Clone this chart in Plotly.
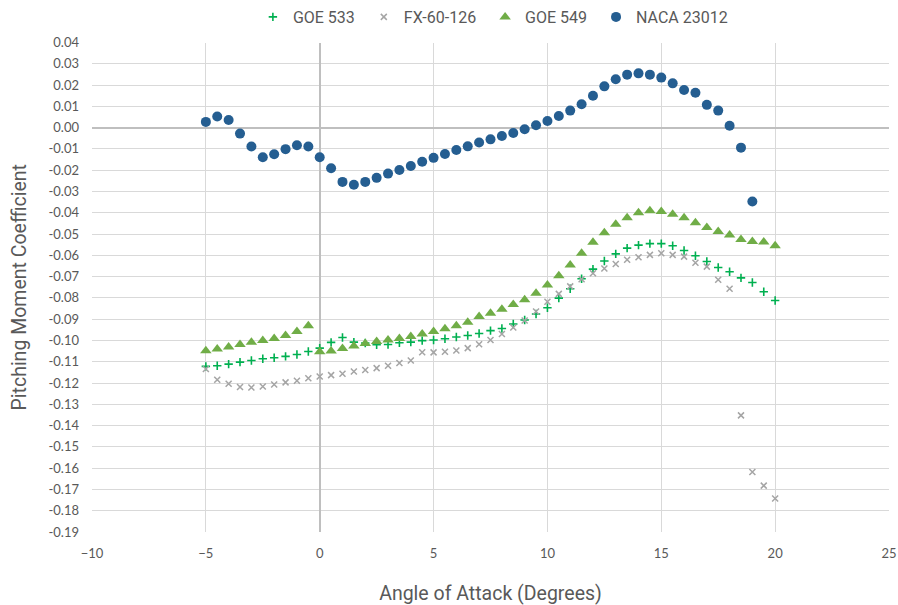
import plotly.graph_objects as go

aoa_full = [-5 + 0.5 * i for i in range(51)]  # -5 .. 20
aoa_naca = [-5 + 0.5 * i for i in range(49)]  # -5 .. 19

goe533 = [-0.1122, -0.1119, -0.1111, -0.1102, -0.1094, -0.1086, -0.1081, -0.1075, -0.1066, -0.1052,
          -0.1036, -0.1009, -0.0986, -0.1008, -0.1012, -0.1020, -0.1019, -0.1011, -0.1008, -0.1001,
          -0.0998, -0.0992, -0.0984, -0.0977, -0.0967, -0.0954, -0.0944, -0.0923, -0.0904, -0.0876,
          -0.0846, -0.0801, -0.0757, -0.0710, -0.0665, -0.0627, -0.0593, -0.0566, -0.0552, -0.0545,
          -0.0545, -0.0555, -0.0577, -0.0602, -0.0629, -0.0657, -0.0677, -0.0706, -0.0728, -0.0771,
          -0.0812]

fx60126 = [-0.1134, -0.1185, -0.1203, -0.1219, -0.1221, -0.1216, -0.1207, -0.1197, -0.1189, -0.1178,
           -0.1169, -0.1163, -0.1156, -0.1146, -0.1139, -0.1130, -0.1119, -0.1106, -0.1094, -0.1055,
           -0.1056, -0.1053, -0.1047, -0.1036, -0.1018, -0.0998, -0.0970, -0.0939, -0.0906, -0.0864,
           -0.0818, -0.0781, -0.0746, -0.0712, -0.0684, -0.0662, -0.0641, -0.0621, -0.0609, -0.0598,
           -0.0590, -0.0598, -0.0606, -0.0635, -0.0653, -0.0715, -0.0757, -0.1352, -0.1618, -0.1682,
           -0.1743]

goe549 = [-0.1048, -0.1040, -0.1031, -0.1019, -0.1009, -0.1000, -0.0991, -0.0977, -0.0958, -0.0931,
          -0.1053, -0.1050, -0.1038, -0.1026, -0.1014, -0.1005, -0.0998, -0.0991, -0.0981, -0.0970,
          -0.0958, -0.0945, -0.0931, -0.0915, -0.0887, -0.0872, -0.0853, -0.0831, -0.0809, -0.0778,
          -0.0740, -0.0696, -0.0645, -0.0590, -0.0538, -0.0494, -0.0454, -0.0424, -0.0400, -0.0391,
          -0.0394, -0.0407, -0.0424, -0.0447, -0.0469, -0.0488, -0.0505, -0.0526, -0.0535, -0.0537,
          -0.0555]

naca23012 = [0.0027, 0.0052, 0.0036, -0.0028, -0.0089, -0.0139, -0.0125, -0.0101, -0.0083, -0.0089,
             -0.0139, -0.0191, -0.0255, -0.0268, -0.0255, -0.0236, -0.0216, -0.0199, -0.0180, -0.0160,
             -0.0142, -0.0124, -0.0105, -0.0088, -0.0070, -0.0055, -0.0039, -0.0025, -0.0008, 0.0011,
             0.0031, 0.0055, 0.0080, 0.0110, 0.0150, 0.0194, 0.0227, 0.0249, 0.0255, 0.0249,
             0.0235, 0.0208, 0.0177, 0.0164, 0.0107, 0.0080, 0.0009, -0.0094, -0.0347]

y_ticks = [round(0.04 - 0.01 * i, 2) for i in range(24)]
y_labels = ["%.2f" % v for v in y_ticks]

NARROW = "Roboto, sans-serif"
TICKF = "Lato, Carlito, Calibri, sans-serif"
GRAY = "#595959"
PAD = "\u00a0"

fig = go.Figure()
fig.add_trace(go.Scatter(x=aoa_full, y=goe533, mode="markers", name="GOE 533" + PAD,
                         marker=dict(symbol="cross-thin", size=6, line=dict(color="#00B050", width=1.6),
                                     color="#00B050")))
fig.add_trace(go.Scatter(x=aoa_full, y=fx60126, mode="markers", name="FX-60-126" + PAD,
                         marker=dict(symbol="x-thin", size=6, line=dict(color="#A5A5A5", width=1.5),
                                     color="#A5A5A5")))
fig.add_trace(go.Scatter(x=aoa_full, y=goe549, mode="markers", name="GOE 549" + PAD,
                         marker=dict(symbol="triangle-up", size=10, color="#70AD47")))
fig.add_trace(go.Scatter(x=aoa_naca, y=naca23012, mode="markers", name="NACA 23012",
                         marker=dict(symbol="circle", size=10, color="#255E91")))

fig.update_layout(
    width=898, height=605,
    margin=dict(l=92, r=9, t=0, b=73, autoexpand=False),
    paper_bgcolor="white", plot_bgcolor="white",
    font=dict(family=NARROW, color=GRAY, size=12),
    legend=dict(orientation="h", x=0.503, xanchor="center",
                y=(532 - 17) / 532, yanchor="middle",
                font=dict(size=16, family=NARROW, color=GRAY), itemsizing="trace",
                itemwidth=30, tracegroupgap=0),
    xaxis=dict(range=[-10, 25], tickvals=list(range(-10, 26, 5)), showgrid=True,
               gridcolor="#D9D9D9", gridwidth=1, zeroline=True, zerolinecolor="#BFBFBF",
               zerolinewidth=1.5, showline=False, ticks="", ticklabelstandoff=12,
               tickfont=dict(size=13, family=TICKF, color=GRAY),
               title=dict(text="Angle of Attack (Degrees)", font=dict(size=19.5, family=NARROW, color=GRAY),
                          standoff=26)),
    yaxis=dict(range=[-0.19, 0.04], domain=[0, 489.5 / 532], tickvals=y_ticks, ticktext=y_labels,
               showgrid=True, gridcolor="#D9D9D9", gridwidth=1, zeroline=True, zerolinecolor="#BFBFBF",
               zerolinewidth=1.5, showline=False, ticks="", ticklabelstandoff=12,
               tickfont=dict(size=13, family=TICKF, color=GRAY),
               title=dict(text="Pitching Moment Coefficient", font=dict(size=19.5, family=NARROW, color=GRAY),
                          standoff=16)),
)

fig.write_html("out.html")
